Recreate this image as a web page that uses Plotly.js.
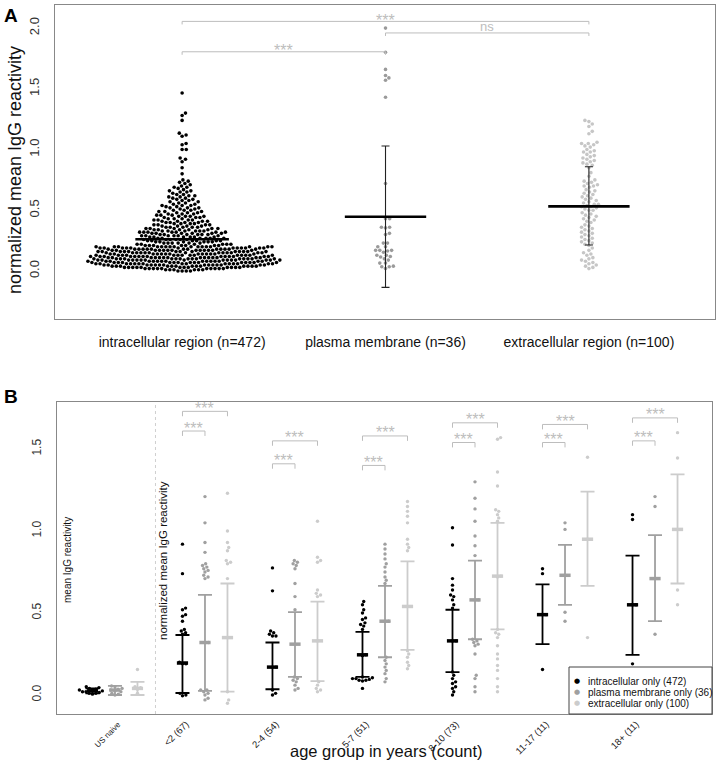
<!DOCTYPE html>
<html><head><meta charset="utf-8">
<script src="https://cdn.plot.ly/plotly-3.0.1.min.js"></script>
<style>body{margin:0;padding:0;background:#fff}#chart{width:717px;height:769px}</style>
</head><body><div id="chart"></div>
<script>
// ---------------- Panel A data ----------------
const aCategories = ['intracellular region (n=472)', 'plasma membrane (n=36)', 'extracellular region (n=100)'];
// intracellular values read as a fine histogram: value level -> number of proteins
const aIntraLevels = [0.00,0.01,0.02,0.03,0.04,0.05,0.06,0.07,0.08,0.09,0.10,0.11,0.12,0.13,0.14,0.15,0.16,0.17,0.18,0.19,
                      0.20,0.21,0.22,0.23,0.24,0.25,0.26,0.27,0.28,0.29,0.30,0.31,0.32,0.33,0.34,0.35,0.36,0.37,0.38,0.39,
                      0.40,0.41,0.42,0.43,0.44,0.45,0.46,0.47,0.48,0.49,0.50,0.51,0.52,0.53,0.54,0.55,0.56,0.57,0.58,0.59,
                      0.60,0.61,0.62,0.63,0.64,0.65,0.66,0.67,0.68,0.69,0.70,0.71,0.72,0.73,0.74,0.75];
const aIntraCounts = [4,6,10,12,13,14,15,15,15,15,15,14,14,14,13,13,13,13,13,12,
                      16,7,6,6,6,6,6,6,6,6,6,6,7,6,5,5,5,4,4,4,
                      4,4,4,3,3,4,3,3,3,3,3,2,3,2,3,2,2,2,2,2,
                      2,2,2,2,1,2,2,1,1,2,1,1,1,1,1,1];
const aIntraHigh = [0.80,0.85,0.90,0.92,0.93,1.00,1.00,1.04,1.05,1.11,1.12,1.135,1.24,1.28,1.30,1.465];
const aPlasma = [2.00,1.80,1.66,1.61,1.59,1.57,1.43,0.72,0.43,0.43,0.36,0.355,0.36,0.30,0.31,0.23,0.23,0.20,0.20,
                 0.17,0.17,0.17,0.165,0.155,0.12,0.115,0.13,0.13,0.10,0.09,0.065,0.065,0.035,0.035,0.04,0.02];
const aExtra = [1.24,1.23,1.21,1.19,1.15,1.13,
                1.06,1.05,1.05,1.04,1.03,1.02,
                1.00,0.99,0.98,0.98,0.96,0.95,
                0.94,0.93,0.92,0.91,0.90,0.89,0.88,0.87,
                0.85,0.81,0.78,
                0.75,0.74,0.73,0.72,0.71,0.70,0.70,0.69,
                0.67,0.66,0.65,0.64,0.63,0.62,0.61,0.60,0.59,0.58,
                0.57,0.56,0.55,0.55,0.54,0.53,0.53,0.52,0.51,0.50,0.50,
                0.48,0.47,0.46,0.45,0.44,0.43,0.42,0.41,0.40,
                0.38,0.37,0.36,0.35,0.34,0.33,0.32,0.31,0.30,0.29,0.28,
                0.27,0.26,0.25,0.24,0.23,0.22,0.21,
                0.19,0.17,0.15,0.14,0.13,
                0.11,0.10,0.09,0.08,0.07,0.06,0.05,0.04,0.03,0.02];
const aMeans = [0.261, 0.447, 0.532];
const aErrLo = [null, -0.135, 0.214];
const aErrHi = [null, 1.029, 0.858];
const aBrackets = [[1, 3, 2.055, '***'], [1, 2, 1.805, '***'], [2, 3, 1.96, 'ns']];

// ---------------- Panel B data ----------------
const bGroups = ['US naive', '<2 (67)', '2-4 (54)', '5-7 (51)', '8-10 (73)', '11-17 (11)', '18+ (11)'];
const bSeriesNames = ['intracellular only (472)', 'plasma membrane only (36)', 'extracellular only (100)'];
const bIntraPts = [
  [0.05,0.045,0.04,0.035,0.03,0.03,0.025,0.02,0.02,0.015,0.01,0.01,0.005],
  [0.92,0.74,0.53,0.52,0.49,0.48,0.45,0.40,0.39,0.38,0.37,0.20,0.19,0.19,0.01,0.0,-0.005],
  [0.775,0.635,0.39,0.38,0.37,0.36,0.36,0.17,0.17,0.03,0.01,0.0],
  [0.57,0.55,0.52,0.50,0.47,0.46,0.44,0.43,0.42,0.40,0.245,0.24,0.11,0.105,0.10,0.10,0.095,0.09,0.09,0.085,0.04],
  [1.02,0.915,0.71,0.67,0.64,0.61,0.60,0.58,0.55,0.53,0.33,0.33,0.14,0.12,0.10,0.08,0.07,0.05,0.04,0.02,0.0],
  [0.77,0.74,0.49,0.49,0.155],
  [1.10,1.07,0.55,0.55,0.19]
];
const bIntraMean = [0.025,0.195,0.17,0.245,0.33,0.49,0.55];
const bIntraLo   = [0.01,0.012,0.035,0.11,0.14,0.31,0.245];
const bIntraHi   = [0.04,0.366,0.32,0.385,0.52,0.675,0.85];
const bPlasmaPts = [
  [0.055,0.05,0.04,0.035,0.03,0.025,0.02,0.01,0.005,0.0],
  [1.21,1.05,0.93,0.87,0.80,0.79,0.78,0.77,0.76,0.75,0.73,0.72,0.71,0.32,0.32,0.03,0.03,0.02,0.01,0.0,-0.02,-0.03],
  [0.82,0.81,0.80,0.79,0.77,0.68,0.60,0.52,0.31,0.11,0.10,0.09,0.08,0.06,0.04,0.03],
  [0.92,0.89,0.86,0.83,0.80,0.78,0.75,0.72,0.70,0.68,0.45,0.45,0.23,0.21,0.19,0.17,0.15,0.13,0.10,0.08],
  [1.30,1.20,1.135,1.06,0.97,0.91,0.85,0.58,0.58,0.34,0.33,0.32,0.31,0.30,0.25,0.12,0.10,0.05,0.02],
  [1.05,1.01,0.73,0.505,0.45],
  [1.21,1.15,0.71,0.37]
];
const bPlasmaMean = [0.03,0.32,0.31,0.45,0.58,0.73,0.71];
const bPlasmaLo   = [0.0,0.025,0.11,0.23,0.34,0.55,0.45];
const bPlasmaHi   = [0.055,0.61,0.505,0.665,0.82,0.915,0.975];
const bExtraPts = [
  [0.155,0.05,0.045,0.035,0.01],
  [1.23,1.00,0.93,0.90,0.88,0.82,0.81,0.80,0.71,0.35,0.02,-0.03,-0.05],
  [1.06,0.84,0.82,0.81,0.64,0.62,0.61,0.60,0.33,0.08,0.06,0.04,0.03,0.02],
  [1.18,1.15,1.12,1.09,1.05,0.95,0.92,0.90,0.88,0.54,0.27,0.25,0.23,0.20,0.18,0.16],
  [1.57,1.56,1.36,1.275,1.13,1.12,1.10,1.08,1.06,0.725,0.72,0.40,0.38,0.37,0.35,0.30,0.25,0.22,0.18,0.15,0.10,0.05,0.02],
  [1.45,0.95,0.35],
  [1.60,1.445,1.01,0.64,0.55]
];
const bExtraMean = [0.04,0.35,0.33,0.54,0.725,0.95,1.01];
const bExtraLo   = [0.0,0.02,0.085,0.275,0.40,0.665,0.68];
const bExtraHi   = [0.08,0.68,0.57,0.815,1.05,1.24,1.345];
// significance bracket heights per group: [intra vs plasma, intra vs extra]
const bBracketLow  = [null,1.61,1.41,1.40,1.54,1.54,1.55];
const bBracketHigh = [null,1.73,1.55,1.58,1.66,1.65,1.69];

// ---------------- helpers ----------------
const W = 717, H = 769;
const PX = px => px / W, PY = py => 1 - py / H;
const FONT = 'Liberation Sans, Arial, Helvetica, sans-serif';

function swarm(vals, pxY, pxX, d) {
  const idx = vals.map((v, i) => i).sort((a, b) => vals[a] - vals[b]);
  const placed = [], off = new Array(vals.length);
  for (const i of idx) {
    const y = vals[i] * pxY;
    const nb = placed.filter(p => Math.abs(p.y - y) < d);
    const cands = [0];
    for (const p of nb) { const dx = Math.sqrt(d * d - (p.y - y) ** 2); cands.push(p.x + dx, p.x - dx); }
    cands.sort((a, b) => Math.abs(a) - Math.abs(b));
    let best = 0;
    for (const c of cands) {
      if (nb.every(p => (p.x - c) ** 2 + (p.y - y) ** 2 >= d * d - 1e-6)) { best = c; break; }
    }
    placed.push({ x: best, y }); off[i] = best / pxX;
  }
  return off;
}

const traces = [];
// ---------- Panel A ----------
const aPxY = 121.5, aPxX = 203;
const aIntra = [];
aIntraLevels.forEach((lv, i) => { for (let k = 0; k < aIntraCounts[i]; k++) aIntra.push(lv); });
aIntraHigh.forEach(v => aIntra.push(v));
const aSets = [aIntra, aPlasma, aExtra];
const aColors = ['#000000', '#9a9a9a', '#c6c6c6'];
aSets.forEach((vals, c) => {
  const off = swarm(vals, aPxY, aPxX, 4.15);
  traces.push({ type: 'scatter', mode: 'markers', xaxis: 'x', yaxis: 'y', showlegend: false,
    x: vals.map((v, i) => c + 1 + off[i]), y: vals,
    marker: { color: aColors[c], size: 3.6, line: { width: 0 } }, hoverinfo: 'skip' });
});
// error bars (A)
traces.push({ type: 'scatter', mode: 'markers', xaxis: 'x', yaxis: 'y', showlegend: false,
  x: [2, 3], y: [aMeans[1], aMeans[2]], marker: { size: 1, opacity: 0 },
  error_y: { type: 'data', symmetric: false, array: [aErrHi[1] - aMeans[1], aErrHi[2] - aMeans[2]],
    arrayminus: [aMeans[1] - aErrLo[1], aMeans[2] - aErrLo[2]], width: 4, thickness: 1.1, color: '#222' } });
// mean lines (A)
const aHalf = [0.23, 0.2, 0.2];
const mx = [], my = [];
aMeans.forEach((m, i) => { mx.push(i + 1 - aHalf[i], i + 1 + aHalf[i], null); my.push(m, m, null); });
traces.push({ type: 'scatter', mode: 'lines', xaxis: 'x', yaxis: 'y', showlegend: false,
  x: mx, y: my, line: { color: '#000', width: 2.6 }, hoverinfo: 'skip' });

// ---------- Panel B ----------
const bPxY = 164, bPxX = 90;
const catOff = [-0.25, 0, 0.25];
const bColors = ['#000000', '#a0a0a0', '#cccccc'];
const bPts = [bIntraPts, bPlasmaPts, bExtraPts];
const bMean = [bIntraMean, bPlasmaMean, bExtraMean];
const bLo = [bIntraLo, bPlasmaLo, bExtraLo];
const bHi = [bIntraHi, bPlasmaHi, bExtraHi];
for (let c = 0; c < 3; c++) {
  const xs = [], ys = [];
  bPts[c].forEach((vals, g) => {
    const off = swarm(vals, bPxY, bPxX, 3.5);
    vals.forEach((v, i) => { xs.push(g + catOff[c] + off[i]); ys.push(v); });
  });
  traces.push({ type: 'scatter', mode: 'markers', xaxis: 'x2', yaxis: 'y2', name: bSeriesNames[c], showlegend: false,
    x: xs, y: ys, marker: { color: bColors[c], size: 3.4, line: { width: 0 } }, hoverinfo: 'skip' });
}
for (let c = 0; c < 3; c++) {
  const gx = bGroups.map((g, i) => i + catOff[c]);
  traces.push({ type: 'scatter', mode: 'markers', xaxis: 'x2', yaxis: 'y2', showlegend: false,
    x: gx, y: bMean[c],
    marker: { symbol: 'line-ew', size: 8, color: bColors[c], line: { width: 3.5, color: bColors[c] } },
    error_y: { type: 'data', symmetric: false,
      array: bHi[c].map((h, i) => h - bMean[c][i]), arrayminus: bLo[c].map((l, i) => bMean[c][i] - l),
      width: 7, thickness: 1.8, color: bColors[c] }, hoverinfo: 'skip' });
}

// ---------- shapes & annotations ----------
const shapes = [], annotations = [];
const bracketColor = '#bdbdbd';
function bracket(x0, x1, y, t, xr, yr) {
  shapes.push({ type: 'path', xref: xr, yref: yr, path: `M ${x0},${y - t} L ${x0},${y} L ${x1},${y} L ${x1},${y - t}`,
    line: { color: bracketColor, width: 1 } });
}
function label(xr, yr, x, y, text, size, color, extra) {
  annotations.push(Object.assign({ xref: xr, yref: yr, x, y, text, showarrow: false, xanchor: 'center', yanchor: 'middle',
    font: { family: FONT, size, color } }, extra || {}));
}
aBrackets.forEach(b => {
  bracket(b[0], b[1], b[2], 0.025, 'x', 'y');
  if (b[3] === 'ns') label('x', 'y', (b[0] + b[1]) / 2, b[2], b[3], 13, bracketColor, { yshift: 6 });
  else label('x', 'y', (b[0] + b[1]) / 2, b[2], b[3], 16, bracketColor, { yshift: 1 });
});
bGroups.forEach((g, i) => {
  if (bBracketLow[i] == null) return;
  bracket(i - 0.25, i, bBracketLow[i], 0.03, 'x2', 'y2');
  bracket(i - 0.25, i + 0.25, bBracketHigh[i], 0.03, 'x2', 'y2');
  label('x2', 'y2', i - 0.125, bBracketLow[i], '***', 16, bracketColor, { yshift: 3 });
  label('x2', 'y2', i, bBracketHigh[i], '***', 16, bracketColor, { yshift: 3 });
});
// dotted separator
shapes.push({ type: 'line', xref: 'x2', yref: 'y2 domain', x0: 0.45, x1: 0.45, y0: 0, y1: 1,
  line: { color: '#cfcfcf', width: 1, dash: 'dot' } });

// panel labels & titles
label('paper', 'paper', PX(11), PY(15), '<b>A</b>', 19, '#000');
label('paper', 'paper', PX(11), PY(396), '<b>B</b>', 19, '#000');
label('paper', 'paper', PX(15), PY(170), 'normalized mean IgG reactivity', 18, '#111', { textangle: -90 });
label('paper', 'paper', PX(67), PY(560), 'mean IgG reactivity', 10, '#111', { textangle: -90 });
label('paper', 'paper', PX(163), PY(561), 'normalized mean IgG reactivity', 11.5, '#111', { textangle: -90 });
label('paper', 'paper', PX(386), PY(751), 'age group in years (count)', 16.5, '#111');

// legend box
shapes.push({ type: 'rect', xref: 'paper', yref: 'paper', x0: PX(569), x1: PX(712), y0: PY(714), y1: PY(667),
  line: { color: '#444', width: 1 }, fillcolor: '#fff', layer: 'above' });
const legRows = [681, 692, 703];
bSeriesNames.forEach((n, i) => {
  annotations.push({ xref: 'paper', yref: 'paper', x: PX(577), y: PY(legRows[i]), text: '●', showarrow: false,
    xanchor: 'center', yanchor: 'middle', font: { family: 'DejaVu Sans', size: 7, color: bColors[i] } });
  annotations.push({ xref: 'paper', yref: 'paper', x: PX(586), y: PY(legRows[i]), text: n, showarrow: false,
    xanchor: 'left', yanchor: 'middle', font: { family: FONT, size: 10, color: '#111' } });
});

const bTickPos = bGroups.map((g, i) => i === 0 ? 0.03 : i - 0.21);
const bTickText = bGroups.map((g, i) => i === 0 ? '<span style="font-size:8px">' + g + '</span>' : g.replace('<', '&lt;'));

const axisCommon = { showline: true, mirror: true, linecolor: '#888', linewidth: 1, showgrid: false, zeroline: false, ticks: '' };
const layout = {
  width: W, height: H, margin: { l: 0, r: 0, t: 0, b: 0 }, paper_bgcolor: '#fff', plot_bgcolor: '#fff',
  showlegend: false, font: { family: FONT, color: '#222' },
  xaxis: Object.assign({}, axisCommon, { domain: [PX(55), PX(715)], range: [0.375, 3.62], anchor: 'y',
    tickvals: [1, 2, 3], ticktext: aCategories, tickfont: { family: FONT, size: 14, color: '#111' }, ticklabelstandoff: 10 }),
  yaxis: Object.assign({}, axisCommon, { domain: [1 - 319 / H, 1 - 5 / H], range: [-0.395, 2.19], anchor: 'x',
    tickvals: [0, 0.5, 1, 1.5, 2], ticktext: ['0.0', '0.5', '1.0', '1.5', '2.0'], tickangle: -90,
    tickfont: { family: FONT, size: 13, color: '#333' }, ticklabelstandoff: 10 }),
  xaxis2: Object.assign({}, axisCommon, { domain: [PX(57), PX(712)], range: [-0.644, 6.633], anchor: 'y2',
    tickvals: bTickPos, ticktext: bTickText, tickangle: -45, tickfont: { family: FONT, size: 9.5, color: '#222' }, ticklabelstandoff: 0 }),
  yaxis2: Object.assign({}, axisCommon, { domain: [1 - 714 / H, 1 - 402 / H], range: [-0.116, 1.787], anchor: 'x2',
    tickvals: [0, 0.5, 1, 1.5], ticktext: ['0.0', '0.5', '1.0', '1.5'], tickangle: -90,
    tickfont: { family: FONT, size: 12, color: '#333' }, ticklabelstandoff: 10 }),
  shapes, annotations
};
Plotly.newPlot('chart', traces, layout, { displayModeBar: false, staticPlot: true });
</script>
</body></html>
